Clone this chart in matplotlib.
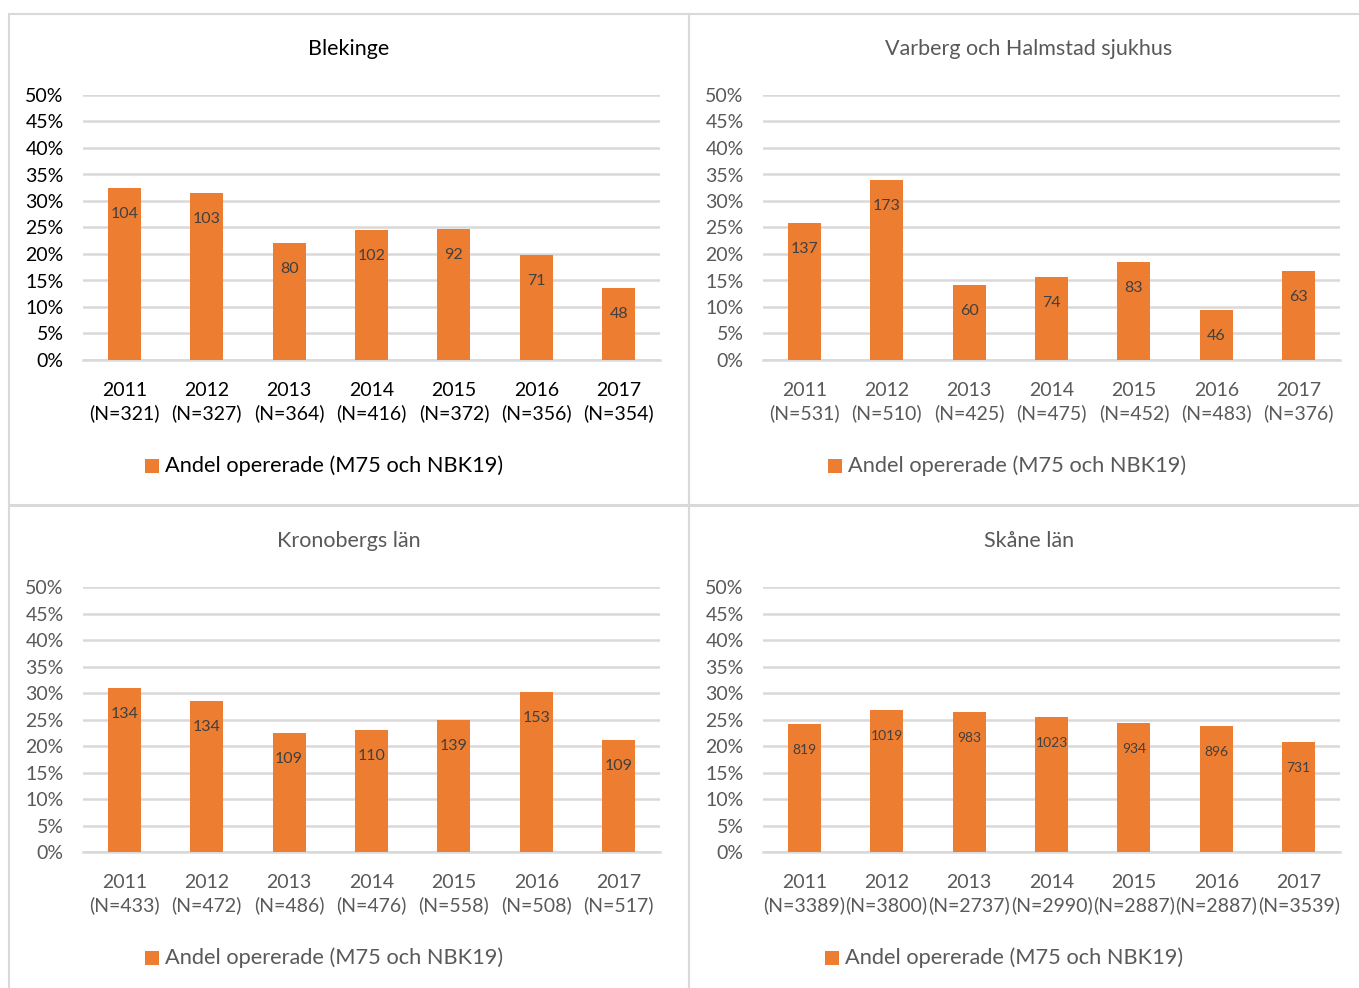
import matplotlib
matplotlib.use("Agg")
import matplotlib.pyplot as plt
from matplotlib.patches import Rectangle

plt.rcParams['font.family'] = ['Lato', 'DejaVu Sans']

years = ["2011", "2012", "2013", "2014", "2015", "2016", "2017"]

blekinge_n = [321, 327, 364, 416, 372, 356, 354]
blekinge_count = [104, 103, 80, 102, 92, 71, 48]
blekinge_pct = [32.4, 31.5, 22.0, 24.5, 24.7, 19.9, 13.6]

varberg_n = [531, 510, 425, 475, 452, 483, 376]
varberg_count = [137, 173, 60, 74, 83, 46, 63]
varberg_pct = [25.8, 33.9, 14.1, 15.6, 18.4, 9.5, 16.8]

kronoberg_n = [433, 472, 486, 476, 558, 508, 517]
kronoberg_count = [134, 134, 109, 110, 139, 153, 109]
kronoberg_pct = [30.9, 28.4, 22.4, 23.1, 24.9, 30.1, 21.1]

skane_n = [3389, 3800, 2737, 2990, 2887, 2887, 3539]
skane_count = [819, 1019, 983, 1023, 934, 896, 731]
skane_pct = [24.2, 26.8, 26.4, 25.4, 24.4, 23.7, 20.7]

yticks = [0, 5, 10, 15, 20, 25, 30, 35, 40, 45, 50]
legend_label = "Andel opererade (M75 och NBK19)"

W, H = 1359, 988
BAR = "#ED7D31"
GRID = "#D9D9D9"

fig = plt.figure(figsize=(W / 100, H / 100), dpi=100)


def fx(px):
    return px / W


def fy(py):
    return 1 - py / H


# panel frames
border_kw = dict(transform=fig.transFigure, fill=False, edgecolor="#D9D9D9", linewidth=1.5)
fig.patches.append(Rectangle((fx(9), fy(505)), fx(680), fy(14) - fy(505), **border_kw))
fig.patches.append(Rectangle((fx(689), fy(505)), fx(680), fy(14) - fy(505), **border_kw))
fig.patches.append(Rectangle((fx(9), fy(1000)), fx(680), fy(506) - fy(1000), **border_kw))
fig.patches.append(Rectangle((fx(689), fy(1000)), fx(680), fy(506) - fy(1000), **border_kw))

panels = [
    ("Blekinge", blekinge_pct, blekinge_count, blekinge_n, 83, 95, 360, 349, 49, "black", 11.5, 466, 145),
    ("Varberg och Halmstad sjukhus", varberg_pct, varberg_count, varberg_n, 763, 95, 360, 1029, 49, "#595959", 11.5, 466, 828),
    ("Kronobergs län", kronoberg_pct, kronoberg_count, kronoberg_n, 83, 587, 852, 349, 541, "#595959", 11.5, 958, 145),
    ("Skåne län", skane_pct, skane_count, skane_n, 763, 587, 852, 1029, 541, "#595959", 10, 958, 825),
]

for (title, pct, cnt, ns, x0, ytop, ybot, tx, ty, tcol, lfs, legy, legx) in panels:
    ax = fig.add_axes([fx(x0), fy(ybot), fx(577), fy(ytop) - fy(ybot)])
    xs = list(range(len(years)))
    ax.bar(xs, pct, width=0.4, color=BAR, zorder=3)
    ax.set_xlim(-0.5, len(years) - 0.5)
    ax.set_ylim(0, 50)
    ax.set_yticks(yticks)
    ax.set_yticklabels([f"{v}%" for v in yticks], fontsize=14, color=tcol)
    ax.yaxis.grid(True, color=GRID, linewidth=1.8, zorder=0)
    ax.set_axisbelow(True)
    for s in ["top", "right", "left"]:
        ax.spines[s].set_visible(False)
    ax.spines["bottom"].set_color(GRID)
    ax.spines["bottom"].set_linewidth(1.8)
    ax.tick_params(axis="y", length=0, pad=14)
    ax.tick_params(axis="x", length=0, pad=16)
    ax.set_xticks(xs)
    ax.set_xticklabels([f"{y}\n(N={n})" for y, n in zip(years, ns)],
                       fontsize=14, color=tcol, linespacing=1.35)
    ax.set_facecolor("none")
    for xi, p, c in zip(xs, pct, cnt):
        ax.annotate(str(c), (xi, p), xytext=(0, -26), textcoords="offset pixels",
                    ha="center", va="center", fontsize=lfs, color="#404040", zorder=4)
    fig.text(fx(tx), fy(ty), title, ha="center", va="center", fontsize=15.5, color=tcol)
    fig.patches.append(Rectangle((fx(legx), fy(legy + 7)), fx(14), fy(legy - 7) - fy(legy + 7),
                                 transform=fig.transFigure, facecolor=BAR, edgecolor="none"))
    fig.text(fx(legx + 20), fy(legy), legend_label, ha="left", va="center", fontsize=15.7, color=tcol)

fig.savefig("out.png", dpi=100, facecolor="white")
